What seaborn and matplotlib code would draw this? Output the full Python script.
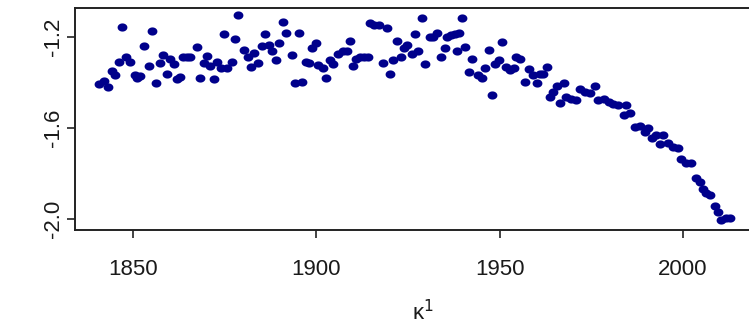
import numpy as np
import pandas as pd
import seaborn as sns
import matplotlib.pyplot as plt
from matplotlib.path import Path

# values
years = [1840.7, 1842.1, 1843.3, 1844.4, 1845.1, 1846.2, 1847.1, 1848.2, 1849.2, 1850.6,
         1851.2, 1852.0, 1852.9, 1854.4, 1855.3, 1856.3, 1857.3, 1858.3, 1859.2, 1860.2,
         1861.1, 1862.0, 1862.9, 1863.8, 1864.8, 1865.7, 1867.4, 1868.3, 1869.3, 1870.2,
         1871.1, 1872.1, 1873.0, 1874.0, 1874.9, 1875.8, 1876.9, 1877.8, 1878.8, 1880.2,
         1881.3, 1882.1, 1883.1, 1884.2, 1885.1, 1886.1, 1887.0, 1888.0, 1889.0, 1889.9,
         1890.9, 1891.8, 1893.3, 1894.2, 1895.2, 1896.2, 1897.1, 1898.1, 1898.9, 1899.9,
         1900.6, 1901.9, 1902.8, 1903.7, 1904.6, 1906.0, 1907.2, 1908.3, 1909.2, 1910.1,
         1910.8, 1911.9, 1913.1, 1914.2, 1914.7, 1915.7, 1917.0, 1918.3, 1919.3, 1920.1,
         1921.0, 1922.1, 1923.0, 1923.9, 1924.9, 1926.0, 1926.9, 1927.8, 1928.8, 1929.7,
         1931.0, 1931.9, 1933.0, 1934.0, 1935.0, 1935.8, 1936.9, 1937.9, 1938.4, 1938.9,
         1939.8, 1940.7, 1941.7, 1942.6, 1944.2, 1945.1, 1946.1, 1947.0, 1948.0, 1948.9,
         1949.9, 1950.8, 1951.7, 1952.8, 1953.9, 1954.4, 1955.5, 1956.9, 1958.1, 1959.2,
         1960.1, 1961.0, 1961.9, 1963.0, 1963.9, 1964.6, 1965.7, 1966.6, 1967.5, 1968.2,
         1969.6, 1970.9, 1971.9, 1973.3, 1974.6, 1976.0, 1976.9, 1978.4, 1979.9, 1981.0,
         1982.3, 1983.9, 1984.6, 1985.5, 1986.9, 1988.3, 1989.6, 1990.5, 1991.7, 1992.8,
         1993.7, 1994.6, 1996.0, 1997.3, 1998.7, 1999.5, 2000.9, 2002.3, 2003.5, 2004.6,
         2005.5, 2006.4, 2007.5, 2008.7, 2009.6, 2010.5, 2011.7, 2012.8]

kappa = [-1.408, -1.392, -1.421, -1.350, -1.367, -1.310, -1.157, -1.290, -1.310, -1.368,
         -1.379, -1.371, -1.240, -1.326, -1.175, -1.402, -1.314, -1.279, -1.361, -1.298,
         -1.320, -1.386, -1.376, -1.290, -1.287, -1.287, -1.245, -1.379, -1.314, -1.283,
         -1.329, -1.385, -1.310, -1.338, -1.188, -1.335, -1.310, -1.210, -1.106, -1.257,
         -1.290, -1.332, -1.269, -1.314, -1.240, -1.187, -1.234, -1.262, -1.302, -1.228,
         -1.135, -1.181, -1.279, -1.401, -1.181, -1.396, -1.310, -1.314, -1.251, -1.228,
         -1.322, -1.338, -1.379, -1.302, -1.320, -1.273, -1.263, -1.263, -1.216, -1.326,
         -1.298, -1.287, -1.287, -1.287, -1.140, -1.149, -1.146, -1.314, -1.163, -1.361,
         -1.302, -1.216, -1.290, -1.251, -1.234, -1.273, -1.187, -1.263, -1.118, -1.320,
         -1.199, -1.199, -1.181, -1.287, -1.251, -1.199, -1.193, -1.188, -1.263, -1.181,
         -1.118, -1.245, -1.355, -1.298, -1.367, -1.379, -1.338, -1.257, -1.455, -1.320,
         -1.302, -1.222, -1.332, -1.344, -1.335, -1.290, -1.298, -1.396, -1.342, -1.367,
         -1.401, -1.363, -1.363, -1.333, -1.465, -1.440, -1.415, -1.489, -1.401, -1.465,
         -1.474, -1.477, -1.430, -1.440, -1.447, -1.415, -1.477, -1.474, -1.484, -1.494,
         -1.499, -1.543, -1.499, -1.535, -1.594, -1.591, -1.616, -1.601, -1.645, -1.631,
         -1.670, -1.631, -1.665, -1.682, -1.689, -1.738, -1.752, -1.755, -1.821, -1.836,
         -1.870, -1.884, -1.895, -1.943, -1.968, -2.004, -1.997, -1.997]

xticks = [1850, 1900, 1950, 2000]
yticks = [-1.2, -1.6, -2.0]

df = pd.DataFrame({"year": years, "kappa": kappa})

sns.set_style("white")
plt.rcParams["font.family"] = ["Liberation Sans", "DejaVu Sans"]

fig = plt.figure(figsize=(7.49, 3.31), dpi=100)
# the plot box runs past the right edge of the picture, as in the reference
ax = fig.add_axes([0.1001, 0.305, 0.93, 0.671])

# slightly wide dot, the reference is stretched sideways
t = np.linspace(0, 2 * np.pi, 40)
dot = Path(np.column_stack([1.2 * np.cos(t), np.sin(t)]), closed=True)

sns.scatterplot(data=df, x="year", y="kappa", ax=ax, color="#00008B",
                marker=dot, s=50, linewidth=0)

ax.set_xlim(1834.2, 2024.2)
ax.set_ylim(-2.048, -1.073)
ax.set_xticks(xticks)
ax.set_xticklabels([str(v) for v in xticks])
ax.set_yticks(yticks)
ax.set_yticklabels([f"{v:.1f}" for v in yticks], rotation=90, va="center")

ax.tick_params(axis="both", direction="out", length=6, width=1.2, color="#222222",
               labelsize=16, labelcolor="#1a1a1a")
ax.tick_params(axis="x", pad=15)
ax.tick_params(axis="y", pad=2)
ax.tick_params(bottom=True, left=True)

for sp in ax.spines.values():
    sp.set_visible(True)
    sp.set_color("#222222")
    sp.set_linewidth(1.4)
ax.spines["right"].set_visible(False)

ax.set_ylabel("")
ax.set_xlabel("κ$^1$", fontsize=16, labelpad=14, color="#1a1a1a")

fig.savefig("out.png", dpi=100)
